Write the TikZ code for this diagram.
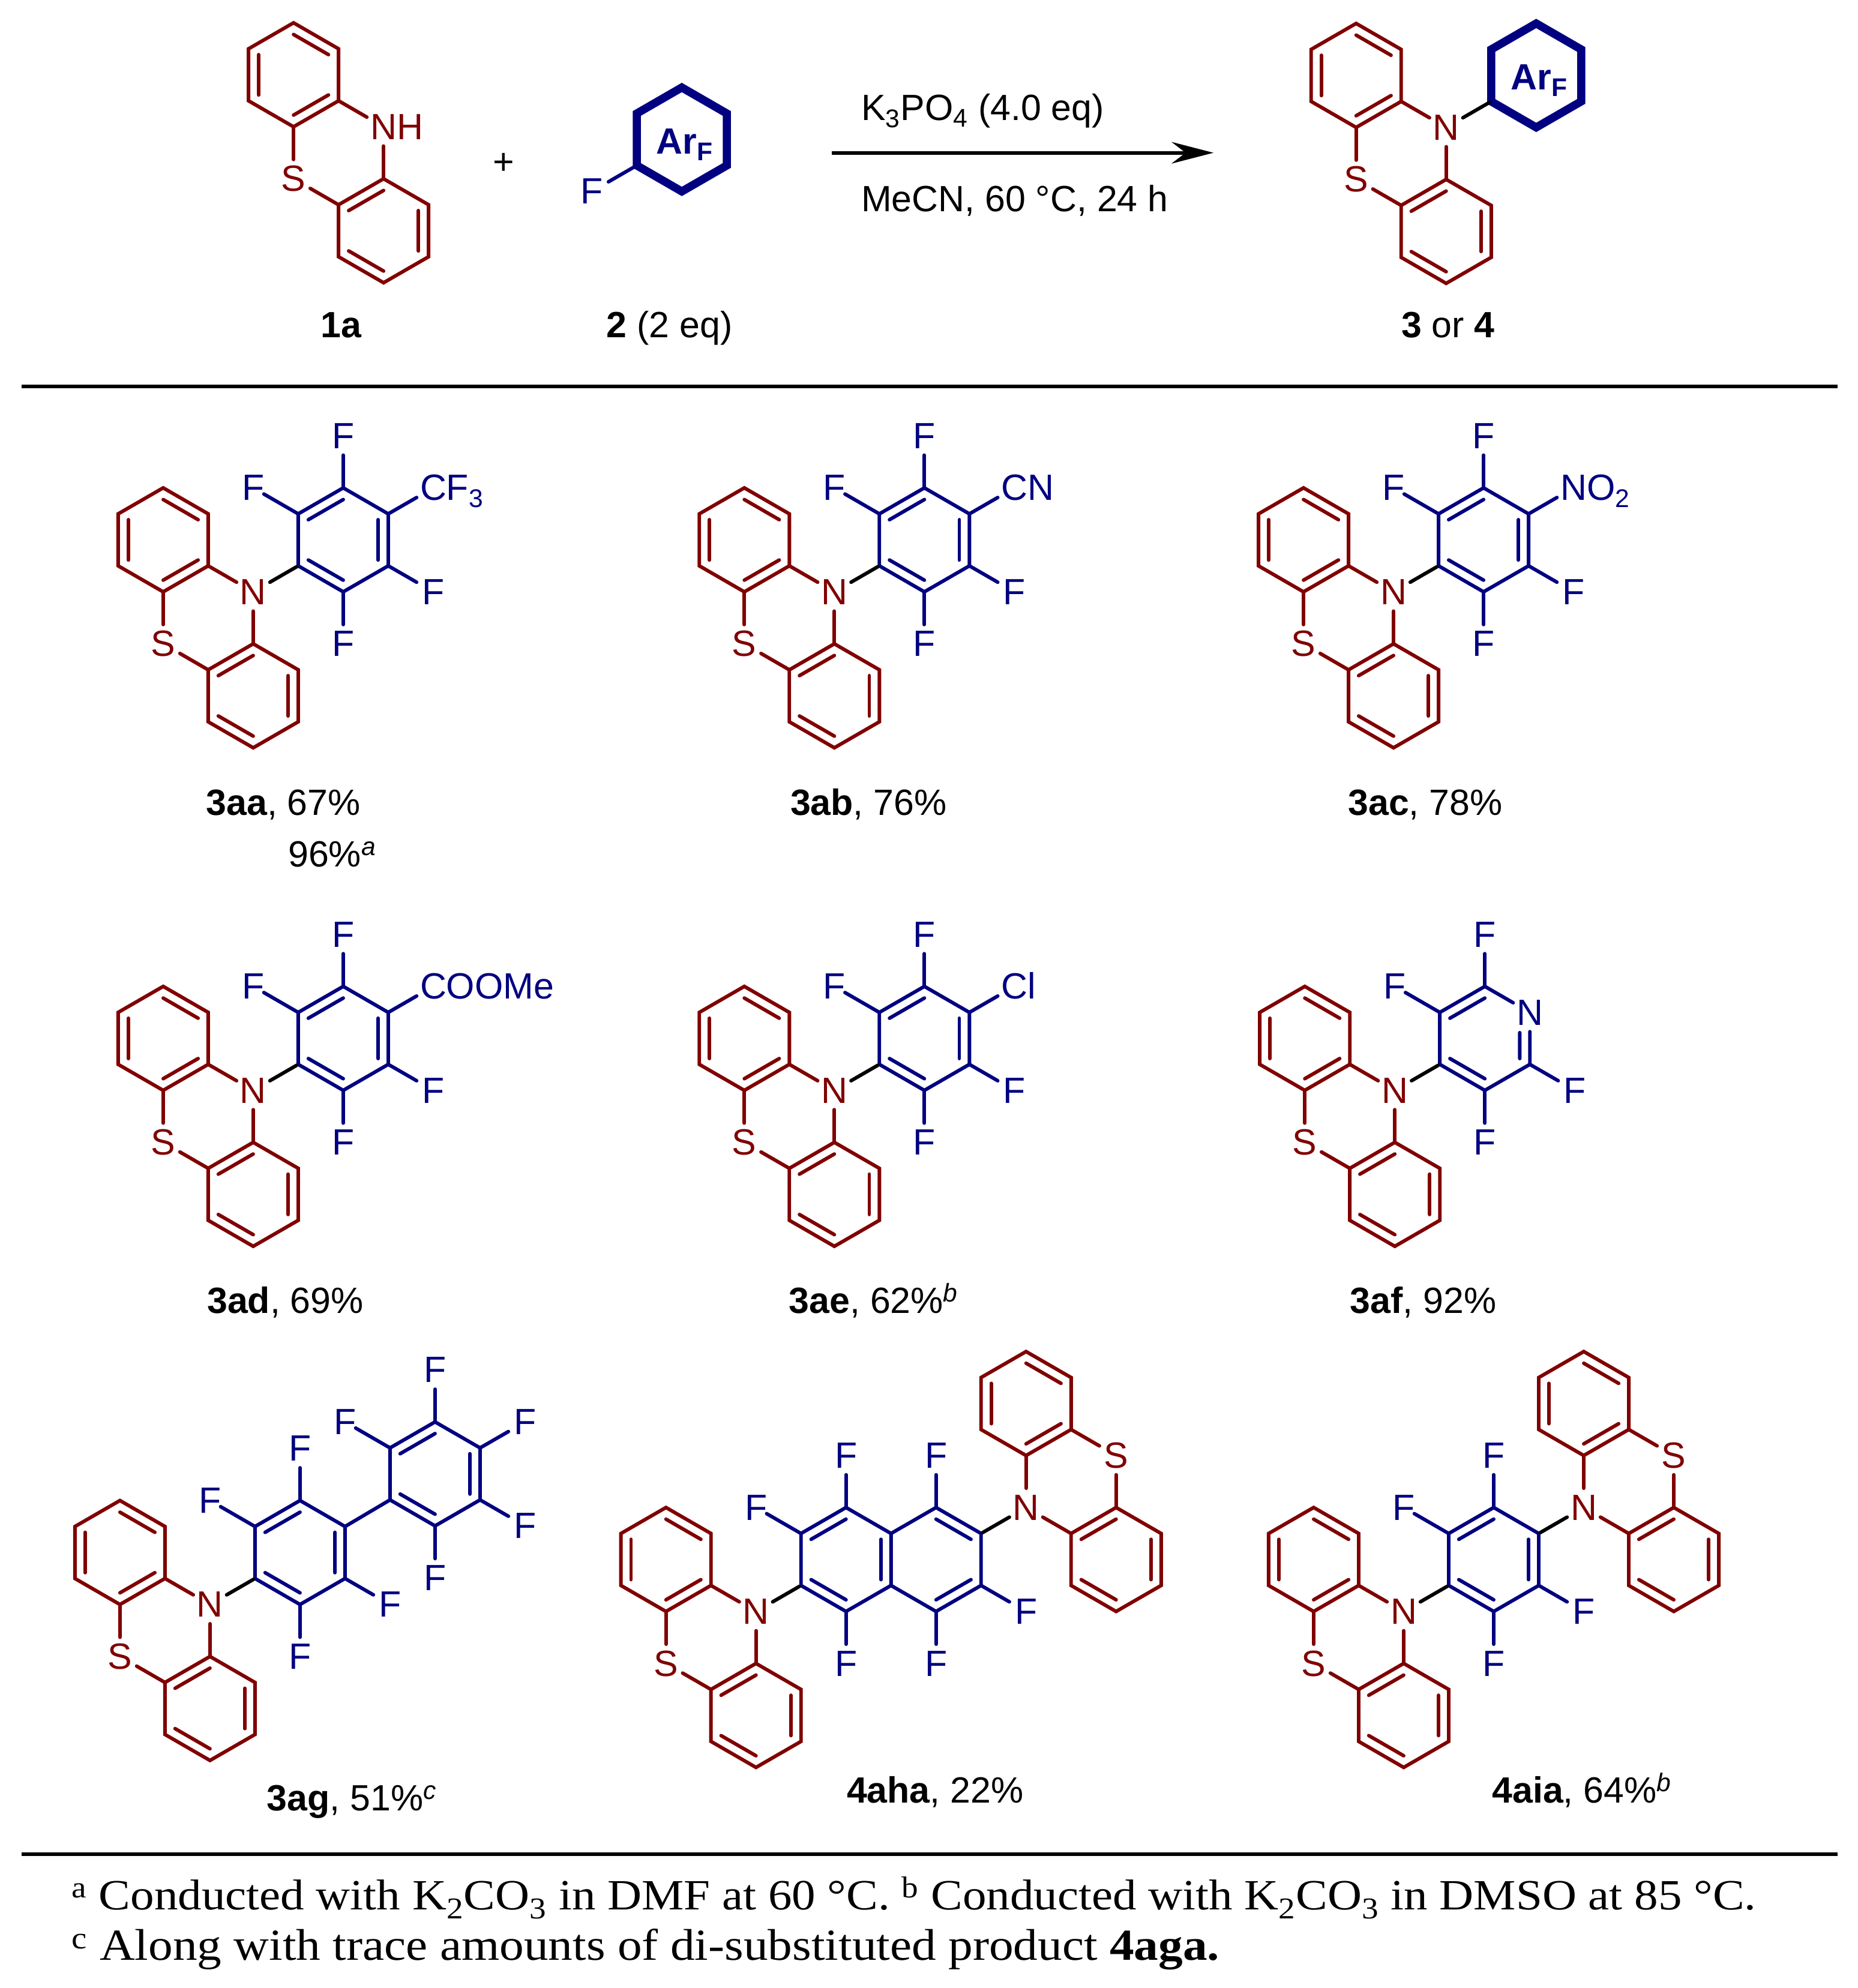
\documentclass[tikz,border=0pt]{standalone}
\usepackage{fontspec}
\usetikzlibrary{arrows.meta}
\setmainfont{Liberation Sans}
\newfontfamily\notefont[FakeStretch=1.1]{Liberation Serif}
\definecolor{ptzred}{HTML}{800000}
\definecolor{arblue}{HTML}{000080}
\tikzset{
  bondr/.style={ptzred,line width=2.8pt,line cap=round,line join=miter},
  bondb/.style={arblue,line width=2.8pt,line cap=round,line join=miter},
  bondk/.style={black,line width=2.8pt,line cap=round,shorten >=1.4pt},
  bondar/.style={arblue,line width=6.4pt,line join=miter},
  atomr/.style={circle,inner sep=0pt,minimum size=30pt,text=ptzred},
  atomb/.style={circle,inner sep=0pt,minimum size=30pt,text=arblue},
  gapF/.style={shorten >=-5.5pt},
  rule/.style={line width=2.8pt},
  lab/.style={anchor=base},
  note/.style={anchor=base west,font=\fontsize{34}{40}\selectfont\notefont},
}
\newcommand{\tl}[1]{\rlap{\smash{#1}}}
% one six-ring: name, centre, style, edges with a double bond
\newcommand{\hexring}[4]{%
\begin{scope}[shift={#2}]
\coordinate (#1) at (0,0);
\foreach \ang in {30,90,...,330} \coordinate (#1-\ang) at (\ang:41);
\draw[#3] (30:41) -- (90:41) -- (150:41) -- (210:41) -- (270:41) -- (330:41) -- cycle;
\foreach \ang in {#4} \draw[#3] (\ang:31.8) -- (\ang+60:31.8);
\end{scope}}
% phenothiazine: [text of N], name, position of N, rotation
\newcommand{\ptz}[4][N]{%
\begin{scope}[shift={#3},rotate=#4]
\node[atomr] (#2-N) at (0,0) {#1};
\node[atomr] (#2-S) at (-71,-41) {S};
\hexring{#2a}{(-71,41)}{bondr}{30,150,270}
\hexring{#2b}{(0,-82)}{bondr}{90,210,330}
\draw[bondr] (#2a-330) -- (#2-N);
\draw[bondr] (#2b-90) -- (#2-N);
\draw[bondr] (#2a-270) -- (#2-S);
\draw[bondr] (#2b-150) -- (#2-S);
\end{scope}}
% thick ring with the Ar_F label
\newcommand{\arfring}[2]{%
\begin{scope}[shift={#2}]
\coordinate (#1) at (0,0);
\foreach \ang in {30,90,...,330} \coordinate (#1-\ang) at (\ang:41);
\draw[bondar] (30:41) -- (90:41) -- (150:41) -- (210:41) -- (270:41) -- (330:41) -- cycle;
\node[lab,text=arblue] (#1-lab) at (2.4,-11.3) {\textbf{Ar\textsubscript{F}}};
\end{scope}}
% substituent on a ring vertex
\newcommand{\subst}[4][]{%
\begin{scope}[shift={(#2)}]
\node[atomb] (#2-s#3) at (#3:82) {#4};
\end{scope}
\draw[bondb,#1] (#2-#3) -- (#2-s#3);}
\newcommand{\fourF}[1]{%
\subst{#1}{90}{F}
\subst[gapF]{#1}{150}{F}
\subst{#1}{330}{F}
\subst{#1}{270}{F}}
% phenothiazine with its aryl ring
\newcommand{\ptzaryl}[2]{%
\ptz{#1}{#2}{0}
\begin{scope}[shift={#2}]
\hexring{#1c}{(71,41)}{bondb}{90,210,330}
\end{scope}
\draw[bondk] (#1-N) -- (#1c-210);}

\begin{document}
\begin{tikzpicture}[x=1pt,y=1pt,every node/.style={font=\fontsize{28.8}{34}\selectfont}]
\useasboundingbox (0,-1568) rectangle (1465,0);

% scheme on top
\ptz[N\tl{H}]{sm}{(302.5,-100)}{0}
\node (plus) at (397,-129) {+};
\arfring{reag}{(537.7,-110)}
\node[atomb] (reagF) at (466.7,-151) {F};
\draw[bondb] (reag-210) -- (reagF);
\node[lab] (l1a) at (269,-266) {\textbf{1a}};
\node[lab] (l2) at (528,-266) {\textbf{2} (2 eq)};
\node[lab] (l34) at (1142,-266) {\textbf{3} or \textbf{4}};

\coordinate (arrowa) at (656,-120.5);
\coordinate (arrowb) at (957,-120.5);
\draw[line width=2.8pt,-{Stealth[length=33pt,width=17pt,inset=11pt]}] (arrowa) -- (arrowb);
\node[anchor=base west] (cond1) at (675.7,-95) {K\textsubscript{3}PO\textsubscript{4} (4.0 eq)};
\node[anchor=base west] (cond2) at (675.7,-167) {MeCN, 60 \textdegree C, 24 h};

\ptz{pr}{(1140.5,-100.5)}{0}
\arfring{prod}{(1211.5,-59.5)}
\draw[bondk] (pr-N) -- (prod-210);

\coordinate (rule1a) at (17,-305);
\coordinate (rule1b) at (1449,-305);
\draw[rule] (rule1a) -- (rule1b);

% first row
\ptzaryl{aa}{(199.7,-466.8)}
\fourF{aac}
\subst{aac}{30}{C\tl{F\textsubscript{3}}}
\node[lab] (l3aa) at (223.5,-643) {\textbf{3aa}, 67\%};
\node[lab] (l3aa2) at (262,-683.5) {96\%\textsuperscript{\textit{a}}};

\ptzaryl{ab}{(658,-466.8)}
\fourF{abc}
\subst{abc}{30}{C\tl{N}}
\node[lab] (l3ab) at (685,-643) {\textbf{3ab}, 76\%};

\ptzaryl{ac}{(1099,-466.8)}
\fourF{acc}
\subst{acc}{30}{N\tl{O\textsubscript{2}}}
\node[lab] (l3ac) at (1124,-643) {\textbf{3ac}, 78\%};

% second row
\ptzaryl{ad}{(199.7,-860)}
\fourF{adc}
\subst{adc}{30}{C\tl{OOMe}}
\node[lab] (l3ad) at (225,-1036) {\textbf{3ad}, 69\%};

\ptzaryl{ae}{(658,-860)}
\fourF{aec}
\subst{aec}{30}{C\tl{l}}
\node[lab] (l3ae) at (689,-1036) {\textbf{3ae}, 62\%\textsuperscript{\textit{b}}};

\ptz{af}{(1100,-860)}{0}
\begin{scope}[shift={(1171,-819)}]
\coordinate (afc) at (0,0);
\foreach \ang in {30,90,...,330} \coordinate (afc-\ang) at (\ang:41);
\node[atomb] (afc-N) at (30:41) {N};
\draw[bondb] (afc-N) -- (90:41) -- (150:41) -- (210:41) -- (270:41) -- (330:41) -- (afc-N);
\foreach \ang in {90,210} \draw[bondb] (\ang:31.8) -- (\ang+60:31.8);
\draw[bondb] (330:31.8) -- (27.5,4.5);
\end{scope}
\draw[bondk] (af-N) -- (afc-210);
\fourF{afc}
\node[lab] (l3af) at (1122.5,-1036) {\textbf{3af}, 92\%};

% third row
\ptzaryl{ag}{(165.6,-1265.5)}
\fourF{agc}
\hexring{agd}{(343.1,-1162.5)}{bondb}{90,210,330}
\draw[bondb] (agc-30) -- (agd-210);
\subst{agd}{90}{F}
\subst[gapF]{agd}{150}{F}
\subst{agd}{30}{F}
\subst{agd}{330}{F}
\subst{agd}{270}{F}
\node[lab] (l3ag) at (277.5,-1428) {\textbf{3ag}, 51\%\textsuperscript{\textit{c}}};

\ptz{hl}{(596.2,-1271)}{0}
\hexring{hm}{(667.2,-1230)}{bondb}{90,210,330}
\hexring{hn}{(738.2,-1230)}{bondb}{30,270}
\ptz{hr}{(809.2,-1189)}{180}
\draw[bondk] (hl-N) -- (hm-210);
\draw[bondk] (hr-N) -- (hn-30);
\subst{hm}{90}{F}
\subst[gapF]{hm}{150}{F}
\subst{hm}{270}{F}
\subst{hn}{90}{F}
\subst{hn}{330}{F}
\subst{hn}{270}{F}
\node[lab] (l4aha) at (737.5,-1422) {\textbf{4aha}, 22\%};

\ptz{il}{(1107,-1271)}{0}
\hexring{im}{(1178,-1230)}{bondb}{90,210,330}
\ptz{ir}{(1249,-1189)}{180}
\draw[bondk] (il-N) -- (im-210);
\draw[bondk] (ir-N) -- (im-30);
\fourF{im}
\node[lab] (l4aia) at (1247.5,-1422) {\textbf{4aia}, 64\%\textsuperscript{\textit{b}}};

\coordinate (rule2a) at (17,-1462.6);
\coordinate (rule2b) at (1449,-1462.6);
\draw[rule] (rule2a) -- (rule2b);

% footnotes
\node[note] (note1) at (53,-1506) {\textsuperscript{a} Conducted with K\textsubscript{2}CO\textsubscript{3} in DMF at 60 \textdegree C. \textsuperscript{b} Conducted with K\textsubscript{2}CO\textsubscript{3} in DMSO at 85 \textdegree C.};
\node[note,font=\fontsize{35}{40}\selectfont\notefont] (note2) at (53,-1546) {\textsuperscript{c} Along with trace amounts of di-substituted product \textbf{4aga.}};
\end{tikzpicture}
\end{document}
